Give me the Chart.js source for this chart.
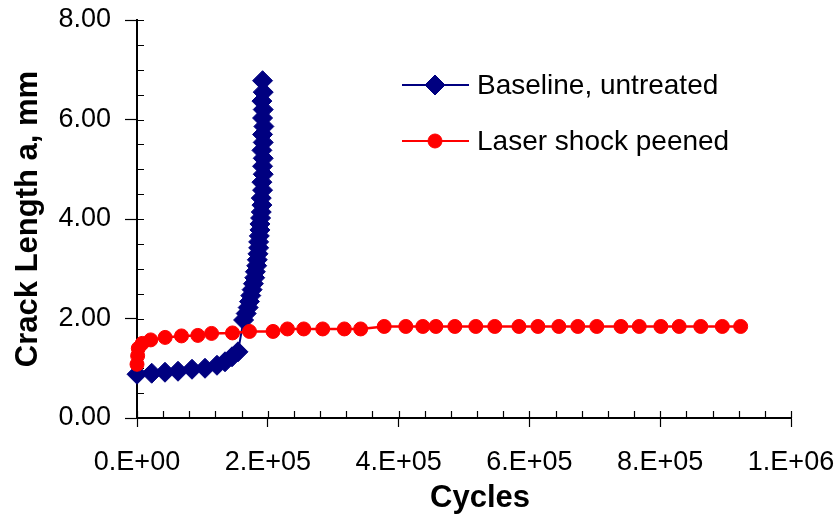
<!DOCTYPE html>
<html>
<head>
<meta charset="utf-8">
<script src="https://cdn.jsdelivr.net/npm/chart.js@4/dist/chart.umd.min.js"></script>
<style>
  html, body { margin: 0; padding: 0; background: #fff; }
  #wrap { width: 840px; height: 524px; position: relative; }
</style>
</head>
<body>
<div id="wrap"><canvas id="chart" width="840" height="524"></canvas></div>
<script>
// values
const baselineCycles = [0, 22500, 42800, 62700, 84100, 104000, 122300, 134600, 145300, 154400,
  163000, 167000, 170000, 172000, 174000, 176000, 178000, 180000, 181000, 183000,
  184000, 185000, 186000, 186000, 187000, 188000, 188000, 189000, 190000, 191000,
  190000, 192000, 191000, 193000, 192000, 193000, 191000, 193000, 192000, 194000,
  192000, 193000, 191000, 193000, 192000];
const baselineCrack = [0.88, 0.90, 0.92, 0.94, 0.98, 1.00, 1.06, 1.13, 1.23, 1.33,
  1.97, 2.10, 2.22, 2.34, 2.46, 2.58, 2.70, 2.82, 2.94, 3.06,
  3.18, 3.30, 3.42, 3.54, 3.66, 3.78, 3.90, 4.02, 4.14, 4.28,
  4.42, 4.58, 4.74, 4.90, 5.06, 5.22, 5.38, 5.54, 5.70, 5.86,
  6.03, 6.20, 6.37, 6.55, 6.78];

const lspCycles = [0, 1000, 2000, 8000, 21000, 43000, 68000, 93000, 114000, 146000,
  172000, 208000, 230000, 255000, 284000, 317000, 342000, 378000, 411000, 437000,
  457000, 486000, 518000, 547000, 584000, 613000, 645000, 674000, 703000, 740000,
  768000, 801000, 829000, 862000, 895000, 923000];
const lspCrack = [1.08, 1.25, 1.40, 1.50, 1.57, 1.62, 1.65, 1.66, 1.70, 1.71,
  1.74, 1.74, 1.79, 1.79, 1.79, 1.79, 1.79, 1.84, 1.84, 1.84,
  1.84, 1.84, 1.84, 1.84, 1.84, 1.84, 1.84, 1.84, 1.84, 1.84,
  1.84, 1.84, 1.84, 1.84, 1.84, 1.84];

const seriesNames = ['Baseline, untreated', 'Laser shock peened'];
const xTitle = 'Cycles';
const yTitle = 'Crack Length a, mm';
const xTickValues = [0, 200000, 400000, 600000, 800000, 1000000];
const xTickLabels = ['0.E+00', '2.E+05', '4.E+05', '6.E+05', '8.E+05', '1.E+06'];
const yTickValues = [0, 2, 4, 6, 8];

const FONT = '"Liberation Sans", Arial, sans-serif';
const BLUE = '#000080';
const RED = '#ff0000';

const toPoints = (xs, ys) => xs.map((x, i) => ({ x: x, y: ys[i] }));

// small inward minor ticks, like the excel axes
const minorTicks = {
  id: 'minorTicks',
  beforeDatasetsDraw(chart) {
    const { ctx, scales: { x, y } } = chart;
    ctx.save();
    ctx.strokeStyle = '#000';
    ctx.lineWidth = 1.2;
    ctx.beginPath();
    for (let v = 0; v <= 8.0001; v += 0.5) {
      const py = Math.round(y.getPixelForValue(v)) + 0.5;
      ctx.moveTo(x.left, py);
      ctx.lineTo(x.left + 7, py);
    }
    for (let v = 0; v <= 1000001; v += 40000) {
      const px = Math.round(x.getPixelForValue(v)) + 0.5;
      ctx.moveTo(px, y.bottom);
      ctx.lineTo(px, y.bottom - 7);
    }
    ctx.stroke();
    ctx.restore();
  }
};

// legend inside plot area (line + marker + label) and the x axis title
const innerLegend = {
  id: 'innerLegend',
  afterDraw(chart) {
    const { ctx } = chart;
    const rows = [
      { y: 85, color: BLUE, style: 'rectRot', radius: 10 },
      { y: 141, color: RED, style: 'circle', radius: 7 }
    ];
    ctx.save();
    rows.forEach((r, i) => {
      ctx.strokeStyle = r.color;
      ctx.lineWidth = 2;
      ctx.beginPath();
      ctx.moveTo(402, r.y);
      ctx.lineTo(469, r.y);
      ctx.stroke();
      ctx.fillStyle = r.color;
      ctx.strokeStyle = r.color;
      ctx.lineWidth = 1;
      Chart.helpers.drawPoint(ctx, { pointStyle: r.style, radius: r.radius, rotation: 0, borderWidth: 1 }, 435, r.y);
      ctx.fillStyle = '#000';
      ctx.font = '28px ' + FONT;
      ctx.textBaseline = 'middle';
      ctx.textAlign = 'left';
      ctx.fillText(seriesNames[i], 477, r.y + 1);
    });
    ctx.font = 'bold 31px ' + FONT;
    ctx.textAlign = 'center';
    ctx.textBaseline = 'middle';
    ctx.fillText(xTitle, 480, 498);
    ctx.restore();
  }
};

new Chart(document.getElementById('chart'), {
  type: 'scatter',
  data: {
    datasets: [
      {
        label: seriesNames[0],
        data: toPoints(baselineCycles, baselineCrack),
        showLine: true,
        borderColor: BLUE,
        backgroundColor: BLUE,
        borderWidth: 2,
        pointStyle: 'rectRot',
        pointRadius: 10,
        pointBorderWidth: 1,
        tension: 0,
        clip: false,
        order: 2
      },
      {
        label: seriesNames[1],
        data: toPoints(lspCycles, lspCrack),
        showLine: true,
        borderColor: RED,
        backgroundColor: RED,
        borderWidth: 2.5,
        pointStyle: 'circle',
        pointRadius: 7,
        pointBorderWidth: 1,
        tension: 0,
        clip: false,
        order: 1
      }
    ]
  },
  options: {
    responsive: false,
    animation: false,
    devicePixelRatio: 1,
    layout: { padding: { top: 20, right: 49, left: 0, bottom: 0 } },
    plugins: {
      legend: { display: false },
      tooltip: { enabled: false }
    },
    scales: {
      x: {
        type: 'linear',
        min: 0,
        max: 1000000,
        afterBuildTicks: s => { s.ticks = xTickValues.map(v => ({ value: v })); },
        afterFit: s => { s.height = 106; s.paddingLeft = 0; s.paddingRight = 0; },
        ticks: {
          color: '#000',
          font: { family: FONT, size: 27 },
          padding: 19,
          maxRotation: 0,
          autoSkip: false,
          callback: (v, i) => xTickLabels[i]
        },
        grid: { drawOnChartArea: false, drawTicks: true, tickLength: 9, tickColor: '#000', tickWidth: 1.2 },
        border: { color: '#000', width: 2 }
      },
      y: {
        type: 'linear',
        min: 0,
        max: 8,
        afterBuildTicks: s => { s.ticks = yTickValues.map(v => ({ value: v })); },
        afterFit: s => { s.width = 137; s.paddingTop = 0; s.paddingBottom = 0; },
        ticks: {
          color: '#000',
          font: { family: FONT, size: 27 },
          padding: 14,
          callback: v => Number(v).toFixed(2)
        },
        grid: { drawOnChartArea: false, drawTicks: true, tickLength: 12, tickColor: '#000', tickWidth: 1.2 },
        border: { color: '#000', width: 2 },
        title: {
          display: true,
          text: yTitle,
          color: '#000',
          font: { family: FONT, size: 31, weight: 'bold' },
          padding: { top: 10, bottom: 0 }
        }
      }
    }
  },
  plugins: [minorTicks, innerLegend]
});
</script>
</body>
</html>
